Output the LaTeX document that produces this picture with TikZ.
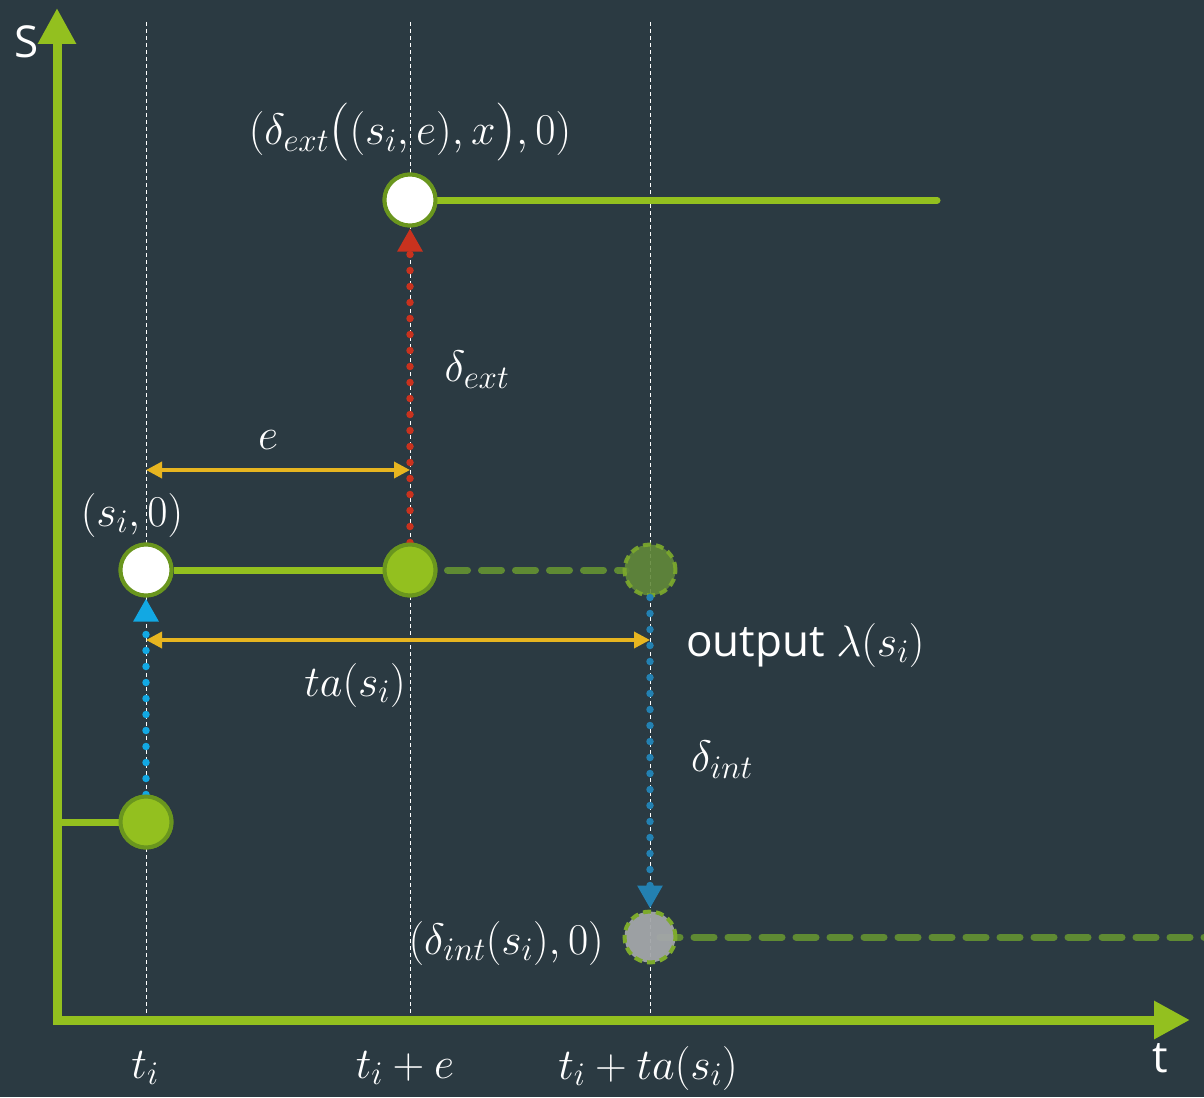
\RequirePackage{fix-cm}
\documentclass[tikz,border=0pt]{standalone}
\usepackage{fontspec}
\setsansfont{Open Sans}
\DeclareMathSizes{44}{44}{33}{26}
\usetikzlibrary{arrows.meta}
\definecolor{bg}{HTML}{2B3A42}
\definecolor{lgreen}{HTML}{93C01F}
\definecolor{dgreen}{HTML}{6A961E}
\definecolor{olive}{HTML}{62893A}
\definecolor{olivedash}{HTML}{7DAA2C}
\definecolor{dashline}{HTML}{5F8A33}
\definecolor{greyc}{HTML}{A3A6A9}
\definecolor{cyanb}{HTML}{12A8E3}
\definecolor{blueb}{HTML}{2381B2}
\definecolor{redd}{HTML}{C9321E}
\definecolor{yell}{HTML}{E7B520}
\newcommand{\bigpar}[1]{\hbox{\fontsize{58}{60}\selectfont\raisebox{-2pt}{#1}}}
\begin{document}
\begin{tikzpicture}[x=1pt,y=-1pt,
  state/.style={circle,minimum size=51pt,inner sep=0pt,line width=4pt,draw=dgreen},
  full/.style={state,fill=lgreen},
  empty/.style={state,fill=white},
  ghost/.style={state,fill=olive,draw=olivedash,dash pattern=on 8pt off 5pt},
  greyst/.style={state,fill=greyc,draw=olivedash,dash pattern=on 8pt off 5pt},
  guide/.style={white,line width=0.8pt,dash pattern=on 4pt off 3pt},
  seg/.style={lgreen,line width=7pt},
  dseg/.style={dashline,line width=7pt,line cap=round,dash pattern=on 20pt off 14pt},
  dots/.style={line width=7.5pt,line cap=round,dash pattern=on 0pt off 16pt},
  tip/.style={line width=7pt,-{Triangle[length=23pt,width=24pt]}},
  lbl/.style={text=white,inner sep=0pt,font=\fontsize{44}{52}\selectfont},
  slbl/.style={lbl,font=\sffamily\fontsize{44}{52}\selectfont},
  ya/.style={yell,line width=3.5pt,{Triangle[length=16pt,width=16pt]}-{Triangle[length=16pt,width=16pt]}}
]
\useasboundingbox (0,0) rectangle (1204,1097);
\fill[bg] (0,0) rectangle (1204,1097);
% guides
\coordinate (g1t) at (146,22); \coordinate (g1b) at (146,1020);
\coordinate (g2t) at (410,22); \coordinate (g2b) at (410,1020);
\coordinate (g3t) at (650,22); \coordinate (g3b) at (650,1020);
\draw[guide] (g1t) -- (g1b);
\draw[guide] (g2t) -- (g2b);
\draw[guide] (g3t) -- (g3b);
% axes
\coordinate (ytop) at (57,8);
\coordinate (O) at (57,1020);
\coordinate (xend) at (1190,1020);
\draw[lgreen,line width=9pt,line join=miter,{Triangle[length=36pt,width=36pt]}-{Triangle[length=36pt,width=36pt]}] (ytop) -- (O) -- (xend);
\node[slbl] (S) at (27,42) {S};
\node[slbl] (T) at (1160,1058) {t};
% states
\coordinate (ax0) at (57,822);
\node[full] (c0) at (146,822) {};
\node[empty] (c1) at (146,570) {};
\node[full] (c2) at (410,570) {};
\node[empty] (c3) at (410,200) {};
\coordinate (end3) at (937,200);
\coordinate (end5) at (1210,937);
\draw[seg] (ax0) -- (c0.west);
\draw[seg] (c1.east) -- (c2.west);
\draw[seg,line cap=round] (c3.east) -- (end3);
\draw[dseg] ([xshift=10pt]c2.east) -- (626,570) coordinate (d4);
\draw[dseg] ([xshift=10pt]650,937) -- (end5);
% transitions (dots)
\draw[cyanb,dots] (c0.north) -- ([yshift=-22pt]c1.south);
\draw[redd,dots] (c2.north) -- ([yshift=-22pt]c3.south);
\node[ghost,opacity=0.9] (c4) at (650,570) {};
\node[greyst,fill opacity=0.95] (c5) at (650,937) {};
\draw[blueb,dots] (c4.south) -- ([yshift=22pt]c5.north);
\node[empty] at (c1) {};
\node[empty] at (c3) {};
\node[full] at (c0) {};
\node[full] at (c2) {};
% tips
\draw[cyanb,tip] ([yshift=-22pt]c1.south) -- ([yshift=-1pt]c1.south);
\draw[redd,tip] ([yshift=-22pt]c3.south) -- ([yshift=-1pt]c3.south);
\draw[blueb,tip] ([yshift=22pt]c5.north) -- ([yshift=1pt]c5.north);
% durations
\coordinate (e1) at (146,470); \coordinate (e2) at (410,470);
\coordinate (ta1) at (146,640); \coordinate (ta2) at (650,640);
\draw[ya] (e1) -- (e2);
\draw[ya] (ta1) -- (ta2);
% labels
\node[lbl] (l3) at (410,132) {$(\delta_{ext}\mathopen{\bigpar{(}}(s_i,e),x\mathclose{\bigpar{)}},0)$};
\node[lbl] (ldext) at (477,370) {$\delta_{ext}$};
\node[lbl] (le) at (268,440) {$e$};
\node[lbl] (l1) at (132,515) {$(s_i,0)$};
\node[lbl,anchor=west] (lout) at (686,645) {\sffamily output $\lambda(s_i)$};
\node[lbl] (lta) at (355,685) {$ta(s_i)$};
\node[lbl] (ldint) at (722,760) {$\delta_{int}$};
\node[lbl,anchor=east] (l5) at (604,943) {$(\delta_{int}(s_i),0)$};
\node[lbl] (t1) at (145,1068) {$t_i$};
\node[lbl] (t2) at (405,1068) {$t_i+e$};
\node[lbl] (t3) at (648,1068) {$t_i+ta(s_i)$};
\end{tikzpicture}
\end{document}
